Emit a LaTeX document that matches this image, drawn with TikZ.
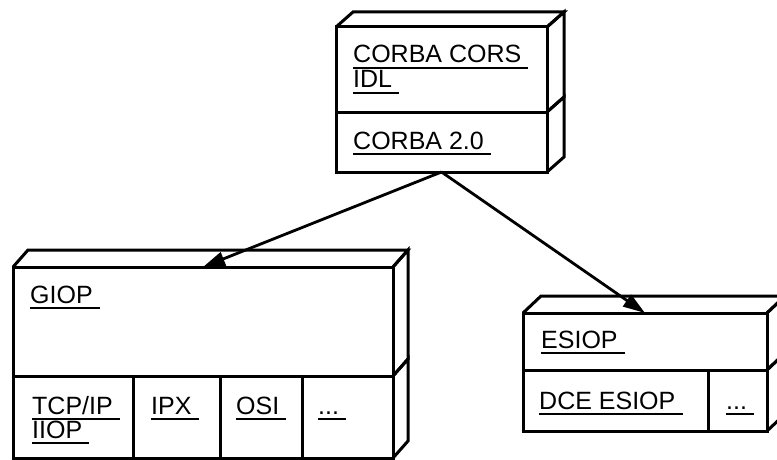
\documentclass[tikz,border=0pt]{standalone}
\usepackage{fontspec}
\setmainfont{Liberation Sans}
\usetikzlibrary{arrows.meta}

% extruded right side and top of a front-face node #1, depth (#2,#3)
\newcommand\rightface[3]{%
  \draw[edge] (#1.north east) -- ++(#2,-#3) -- ([shift={(#2,-#3)}]#1.south east) -- (#1.south east);}
\newcommand\topface[3]{%
  \draw[edge] (#1.north west) -- ++(#2,-#3) -- ([shift={(#2,-#3)}]#1.north east) -- (#1.north east);}
% underlined label: node #1 at #2 with text #3
\newcommand\ulabel[3]{%
  \node[lbl] (#1) at (#2) {#3};
  \draw[uline] ([yshift=-5pt]#1.base west) -- ([yshift=-5pt,xshift=7pt]#1.base east);}

\begin{document}
\begin{tikzpicture}[x=1pt,y=-1pt,
  face/.style={draw,line width=3pt,fill=white,anchor=north west,inner sep=0pt,outer sep=0pt},
  edge/.style={line width=3pt,line join=miter},
  lbl/.style={anchor=base west,inner sep=0pt,font=\fontsize{25}{28}\selectfont},
  uline/.style={line width=1.4pt},
  link/.style={line width=2.8pt,-{Triangle[length=22pt,width=14pt]}}]
\useasboundingbox (0,0) rectangle (777,460);

% CORBA stack
\node[face,minimum width=211pt,minimum height=85pt] (corbaA) at (336,27) {};
\node[face,minimum width=211pt,minimum height=60pt] (corbaB) at (336,112) {};
\topface{corbaA}{17}{15}
\rightface{corbaA}{17}{15}
\rightface{corbaB}{17}{15}
\ulabel{tCorbaA}{353,63}{CORBA CORS}
\ulabel{tCorbaB}{353,88}{IDL}
\ulabel{tCorbaC}{353,149}{CORBA 2.0}

% GIOP stack
\node[face,minimum width=380pt,minimum height=109pt] (giop) at (13,267) {};
\node[face,minimum width=380pt,minimum height=82pt] (giopLow) at (13,376) {};
\node[face,minimum width=120pt,minimum height=82pt] (tcp) at (13,376) {};
\node[face,minimum width=87pt,minimum height=82pt] (ipx) at (133,376) {};
\node[face,minimum width=82pt,minimum height=82pt] (osi) at (220,376) {};
\node[face,minimum width=91pt,minimum height=82pt] (more) at (302,376) {};
\topface{giop}{15}{17}
\rightface{giop}{15}{17}
\rightface{giopLow}{15}{17}
\ulabel{tGiop}{30,303}{GIOP}
\ulabel{tTcp}{32,414}{TCP/IP}
\ulabel{tIiop}{32,438}{IIOP}
\ulabel{tIpx}{151,414}{IPX}
\ulabel{tOsi}{236,414}{OSI}
\ulabel{tMore}{318,414}{...}

% ESIOP stack
\node[face,minimum width=244pt,minimum height=57pt] (esiop) at (523,313) {};
\node[face,minimum width=244pt,minimum height=61pt] (esiopLow) at (523,370) {};
\node[face,minimum width=185pt,minimum height=61pt] (dce) at (523,370) {};
\node[face,minimum width=59pt,minimum height=61pt] (more2) at (708,370) {};
\topface{esiop}{18}{17}
\rightface{esiop}{18}{17}
\rightface{esiopLow}{18}{17}
\ulabel{tEsiop}{541,348}{ESIOP}
\ulabel{tDce}{539,409}{DCE ESIOP}
\ulabel{tMore2}{726,409}{...}

% connectors
\draw[link] (corbaB.south) -- (giop.north);
\draw[link] (corbaB.south) -- (esiop.north);
\end{tikzpicture}
\end{document}
